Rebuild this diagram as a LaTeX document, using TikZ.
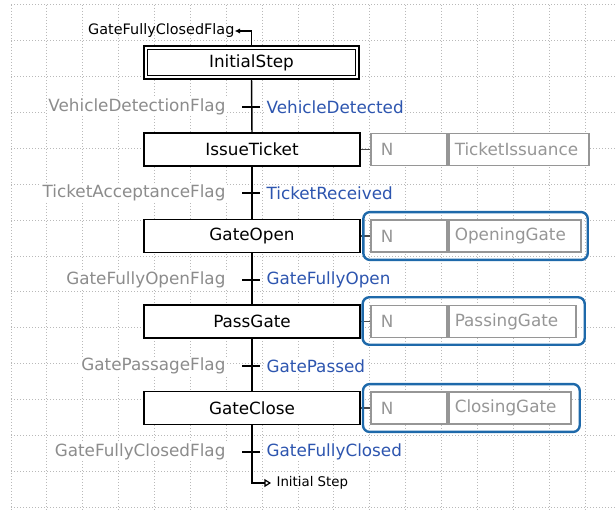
\documentclass[tikz,border=0pt]{standalone}
\usepackage{fontspec}
\setmainfont{DejaVu Sans}
\usetikzlibrary{arrows.meta}
\definecolor{gridc}{RGB}{185,185,185}
\definecolor{lblgray}{RGB}{140,140,140}
\definecolor{condblue}{RGB}{45,85,175}
\definecolor{boxblue}{RGB}{30,105,170}
\definecolor{actgray}{RGB}{150,150,150}
\begin{document}
\begin{tikzpicture}[x=0.75pt,y=-0.75pt,
  gridline/.style={draw=gridc,line width=0.75pt,dash pattern=on 0.75pt off 1.5pt},
  mainfont/.style={font=\fontsize{12.6}{14}\selectfont},
  stepbox/.style={draw=black,line width=1.1pt,fill=white,minimum width=162pt,minimum height=24.75pt,inner sep=0pt,mainfont},
  qualbox/.style={draw=actgray,line width=1.4pt,fill=white,minimum height=24pt,inner xsep=7.5pt,inner ysep=0pt,text width=42pt,align=left,anchor=west,text=actgray,mainfont},
  actbox/.style={draw=actgray,line width=1.4pt,fill=white,minimum height=24pt,inner xsep=4.5pt,inner ysep=0pt,text width=#1,align=left,anchor=west,text=actgray,mainfont},
  condlbl/.style={fill=white,inner sep=1pt,text=lblgray,anchor=east,mainfont},
  condname/.style={fill=white,inner sep=1pt,text=condblue,anchor=west,mainfont},
  flow/.style={draw=black,line width=1.1pt},
  tick/.style={draw=black,line width=1.1pt},
  actlink/.style={draw=black!70,line width=1pt},
  bluebox/.style={draw=boxblue,line width=1.8pt,rounded corners=5pt},
  jumplbl/.style={inner sep=1pt,text=black}
]
\useasboundingbox (0,0) rectangle (616,510);
\fill[white] (0,0) rectangle (616,510);
% grid
\foreach \k in {0,...,16}
  \draw[gridline] ({11+35.875*\k},5) -- ({11+35.875*\k},510);
\foreach \k in {0,...,14}
  \draw[gridline] (11,{5+35.86*\k}) -- (616,{5+35.86*\k});

% steps
\node[stepbox,minimum width=161.25pt] (s0) at (251.5,62.5) {InitialStep};
\draw[line width=1.1pt] ([shift={(3pt,-3pt)}]s0.north west) rectangle ([shift={(-3pt,3pt)}]s0.south east);
\node[stepbox] (s1) at (252,149.5) {IssueTicket};
\node[stepbox] (s2) at (252,236) {GateOpen};
\node[stepbox] (s3) at (252,321.5) {PassGate};
\node[stepbox] (s4) at (252,408) {GateClose};

% transitions
\coordinate (t1) at (252,107);
\coordinate (t2) at (252,193);
\coordinate (t3) at (252,280);
\coordinate (t4) at (252,366);
\coordinate (t5) at (252,452);

\node[condlbl] (c1) at (227,107) {VehicleDetectionFlag};
\node[condname] (n1) at (265,107) {VehicleDetected};
\node[condlbl] (c2) at (227,193) {TicketAcceptanceFlag};
\node[condname] (n2) at (265,193) {TicketReceived};
\node[condlbl] (c3) at (227,280) {GateFullyOpenFlag};
\node[condname] (n3) at (265,280) {GateFullyOpen};
\node[condlbl] (c4) at (227,366) {GatePassageFlag};
\node[condname] (n4) at (265,366) {GatePassed};
\node[condlbl] (c5) at (227,452) {GateFullyClosedFlag};
\node[condname] (n5) at (265,452) {GateFullyClosed};

% actions
\node[qualbox] (q1) at (370,149.5) {N};
\node[actbox=96pt] (a1) at (q1.east) {TicketIssuance};
\node[qualbox] (q2) at (370,236) {N};
\node[actbox=90pt] (a2) at (q2.east) {OpeningGate};
\node[qualbox] (q3) at (370,321.5) {N};
\node[actbox=86.25pt] (a3) at (q3.east) {PassingGate};
\node[qualbox] (q4) at (370,408) {N};
\node[actbox=82.5pt] (a4) at (q4.east) {ClosingGate};

\draw[actlink] (s1.east) -- (q1.west);
\draw[actlink] (s2.east) -- (q2.west);
\draw[actlink] (s3.east) -- (q3.west);
\draw[actlink] (s4.east) -- (q4.west);

\draw[bluebox] ([shift={(-5pt,5.25pt)}]q2.north west) rectangle ([shift={(4.5pt,-5.25pt)}]a2.south east);
\draw[bluebox] ([shift={(-5.5pt,5.5pt)}]q3.north west) rectangle ([shift={(6pt,-4.75pt)}]a3.south east);
\draw[bluebox] ([shift={(-5.25pt,5.25pt)}]q4.north west) rectangle ([shift={(6pt,-5.25pt)}]a4.south east);

% flow line
\draw[flow] (s0.south) -- (s1.north);
\draw[flow] (s1.south) -- (s2.north);
\draw[flow] (s2.south) -- (s3.north);
\draw[flow] (s3.south) -- (s4.north);
\foreach \t in {t1,t2,t3,t4,t5}
  \draw[tick] ([xshift=-7.5pt]\t) -- ([xshift=6pt]\t);

% jumps
\node[jumplbl,anchor=east,font=\fontsize{10.8}{12}\selectfont] (jt) at (236,31) {GateFullyClosedFlag};
\draw[flow,{Latex[length=4pt,width=4pt]}-] ([xshift=-1pt]jt.east) -| (s0.north);
\node[jumplbl,anchor=west,font=\fontsize{10}{12}\selectfont] (jb) at (275,483) {Initial Step};
\draw[flow,-{Triangle[open,length=5pt,width=6pt,line width=0.9pt]},shorten >=3pt] (s4.south) |- (jb.west);
\end{tikzpicture}
\end{document}
